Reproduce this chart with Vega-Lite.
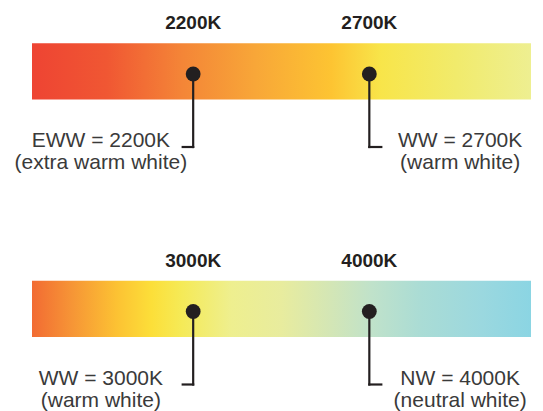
{
  "$schema": "https://vega.github.io/schema/vega-lite/v6.json",
  "padding": 0,
  "background": "white",
  "config": {"view": {"stroke": null}},
  "data": {"values": [
    {"band": 1, "kind": "bar", "start": 0, "end": 100},
    {"band": 2, "kind": "bar", "start": 0, "end": 100},
    {"band": 1, "kind": "marker", "kelvin": "2200K", "pos": 32.3, "elbow": 30.2, "labelx": 13.8, "code": "EWW = 2200K", "name": "(extra warm white)"},
    {"band": 1, "kind": "marker", "kelvin": "2700K", "pos": 67.6, "elbow": 70.0, "labelx": 85.8, "code": "WW = 2700K", "name": "(warm white)"},
    {"band": 2, "kind": "marker", "kelvin": "3000K", "pos": 32.3, "elbow": 30.2, "labelx": 13.8, "code": "WW = 3000K", "name": "(warm white)"},
    {"band": 2, "kind": "marker", "kelvin": "4000K", "pos": 67.6, "elbow": 70.0, "labelx": 85.8, "code": "NW = 4000K", "name": "(neutral white)"}
  ]},
  "facet": {"row": {"field": "band", "type": "ordinal", "header": null}},
  "spacing": {"row": 65.5},
  "bounds": "flush",
  "spec": {
    "width": 543,
    "height": 172,
    "layer": [
      {
        "transform": [{"filter": "datum.kind === 'bar' && datum.band === 1"}],
        "mark": {"type": "rect", "stroke": null, "fill": {"gradient": "linear", "x1": 0, "x2": 1, "y1": 0, "y2": 0, "stops": [
          {"offset": 0, "color": "#EE4433"},
          {"offset": 0.15, "color": "#F05733"},
          {"offset": 0.3, "color": "#F48537"},
          {"offset": 0.45, "color": "#F8A738"},
          {"offset": 0.6, "color": "#FDC432"},
          {"offset": 0.7, "color": "#F8E54A"},
          {"offset": 0.85, "color": "#F1EB6C"},
          {"offset": 1, "color": "#EEEF91"}
        ]}},
        "encoding": {
          "x": {"field": "start", "type": "quantitative", "scale": {"domain": [-6.413, 102.405], "nice": false, "zero": false}, "axis": null},
          "x2": {"field": "end"},
          "y": {"datum": 43.3, "type": "quantitative", "scale": {"domain": [0, 172], "reverse": true, "nice": false, "zero": false}, "axis": null},
          "y2": {"datum": 99.5}
        }
      },
      {
        "transform": [{"filter": "datum.kind === 'bar' && datum.band === 2"}],
        "mark": {"type": "rect", "stroke": null, "fill": {"gradient": "linear", "x1": 0, "x2": 1, "y1": 0, "y2": 0, "stops": [
          {"offset": 0, "color": "#F26B33"},
          {"offset": 0.08, "color": "#F69536"},
          {"offset": 0.17, "color": "#FCC233"},
          {"offset": 0.24, "color": "#FCDF39"},
          {"offset": 0.3, "color": "#F5EA57"},
          {"offset": 0.4, "color": "#EEEF8F"},
          {"offset": 0.5, "color": "#E8EC9E"},
          {"offset": 0.6, "color": "#D3E6B6"},
          {"offset": 0.68, "color": "#C0E2CA"},
          {"offset": 0.78, "color": "#AADCD5"},
          {"offset": 0.9, "color": "#9BD8DF"},
          {"offset": 1, "color": "#8BD5E3"}
        ]}},
        "encoding": {
          "x": {"field": "start", "type": "quantitative"},
          "x2": {"field": "end"},
          "y": {"datum": 43.3, "type": "quantitative"},
          "y2": {"datum": 99.5}
        }
      },
      {
        "transform": [{"filter": "datum.kind === 'marker'"}],
        "mark": {"type": "rule", "color": "#231F20", "strokeWidth": 2.2, "strokeCap": "square"},
        "encoding": {
          "x": {"field": "pos", "type": "quantitative"},
          "y": {"datum": 74, "type": "quantitative"},
          "y2": {"datum": 147}
        }
      },
      {
        "transform": [{"filter": "datum.kind === 'marker'"}],
        "mark": {"type": "rule", "color": "#231F20", "strokeWidth": 2.2, "strokeCap": "square"},
        "encoding": {
          "x": {"field": "pos", "type": "quantitative"},
          "x2": {"field": "elbow"},
          "y": {"datum": 147, "type": "quantitative"}
        }
      },
      {
        "transform": [{"filter": "datum.kind === 'marker'"}],
        "mark": {"type": "circle", "size": 220, "opacity": 1, "color": "#231F20"},
        "encoding": {
          "x": {"field": "pos", "type": "quantitative"},
          "y": {"datum": 74, "type": "quantitative"}
        }
      },
      {
        "transform": [{"filter": "datum.kind === 'marker'"}],
        "mark": {"type": "text", "font": "Liberation Sans", "fontWeight": "bold", "fontSize": 19, "color": "#231F20", "align": "center", "baseline": "alphabetic"},
        "encoding": {
          "x": {"field": "pos", "type": "quantitative"},
          "y": {"datum": 29, "type": "quantitative"},
          "text": {"field": "kelvin"}
        }
      },
      {
        "transform": [{"filter": "datum.kind === 'marker'"}],
        "mark": {"type": "text", "font": "Liberation Sans", "fontSize": 21, "color": "#3A3A3A", "align": "center", "baseline": "alphabetic"},
        "encoding": {
          "x": {"field": "labelx", "type": "quantitative"},
          "y": {"datum": 147, "type": "quantitative"},
          "text": {"field": "code"}
        }
      },
      {
        "transform": [{"filter": "datum.kind === 'marker'"}],
        "mark": {"type": "text", "font": "Liberation Sans", "fontSize": 21, "color": "#3A3A3A", "align": "center", "baseline": "alphabetic"},
        "encoding": {
          "x": {"field": "labelx", "type": "quantitative"},
          "y": {"datum": 169, "type": "quantitative"},
          "text": {"field": "name"}
        }
      }
    ]
  }
}
